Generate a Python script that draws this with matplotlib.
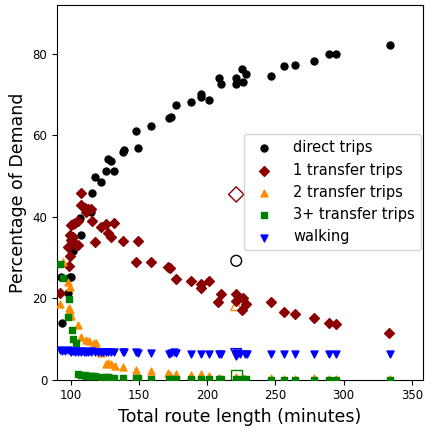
import matplotlib
matplotlib.use("Agg")
import matplotlib.pyplot as plt

# share of demand per travel mode against total route length (minutes)
direct_x = [93.2, 93.6, 98.0, 99.3, 100.5, 101.7, 106.6, 107.8, 115.2, 115.9,
            117.6, 122.5, 126.1, 131.7, 127.3, 129.8, 138.3, 139.0, 148.1, 149.3,
            158.6, 171.7, 173.7, 177.1, 188.3, 195.7, 195.7, 201.5, 208.6, 210.0,
            221.3, 221.3, 225.7, 226.6, 228.6, 246.9, 256.2, 264.7, 278.6, 288.9,
            294.2, 334.0]
direct_y = [25.2, 14.0, 21.2, 25.2, 25.2, 31.5, 39.7, 35.6, 41.2, 45.8,
            49.9, 48.6, 51.2, 51.2, 54.3, 53.6, 55.9, 56.3, 61.0, 56.9,
            62.2, 64.3, 64.6, 67.5, 68.1, 70.2, 69.5, 68.8, 74.2, 72.6,
            74.2, 72.6, 76.2, 73.2, 75.1, 74.6, 77.0, 77.4, 78.3, 79.9,
            80.0, 82.3]

one_x = [92.0, 98.5, 99.3, 98.0, 104.2, 105.3, 99.3, 101.7, 100.5, 100.5,
         101.7, 103.4, 105.3, 107.8, 107.8, 110.2, 111.5, 112.7, 114.6, 115.9,
         117.6, 122.5, 126.1, 131.7, 127.3, 129.8, 138.3, 149.3, 148.1, 158.6,
         171.2, 173.0, 177.4, 188.4, 195.2, 195.2, 201.2, 209.8, 208.3, 220.8,
         220.8, 226.6, 228.6, 225.7, 246.9, 256.2, 264.7, 278.6, 289.1, 294.5,
         333.5]
one_y = [21.2, 27.9, 30.3, 32.6, 33.0, 33.0, 35.5, 35.0, 34.2, 37.9,
         38.3, 38.5, 39.0, 43.0, 45.8, 42.2, 41.2, 41.8, 42.0, 38.9,
         33.8, 37.4, 38.2, 38.5, 35.9, 35.0, 34.1, 34.1, 29.0, 28.9,
         27.7, 27.5, 24.7, 24.2, 23.5, 22.4, 24.2, 21.0, 19.1, 21.0,
         19.3, 20.0, 18.6, 17.1, 19.1, 16.6, 16.1, 15.2, 13.8, 13.6,
         11.5]

two_x = [92.0, 94.4, 98.0, 99.8, 98.5, 99.3, 100.5, 105.3, 107.8, 111.2,
         113.6, 117.3, 118.5, 122.5, 126.1, 127.5, 129.8, 132.2, 138.3, 148.1,
         158.6, 171.2, 173.0, 177.4, 188.4, 195.7, 201.2, 208.6, 220.8, 226.0,
         246.9, 256.2, 264.7, 278.6, 289.0, 294.5, 334.0]
two_y = [18.5, 28.9, 24.0, 22.8, 17.5, 17.1, 15.6, 13.4, 10.5, 9.7,
         9.4, 9.1, 8.9, 6.6, 3.8, 4.0, 3.8, 3.3, 3.2, 2.4,
         2.1, 1.7, 1.2, 1.5, 1.2, 1.3, 0.8, 0.5, 0.7, 0.5,
         0.4, 0.2, 0.2, 0.4, 0.2, 0.2, 0.2]

three_x = [92.0, 94.4, 98.5, 98.0, 101.0, 101.7, 104.2, 105.3, 107.8, 110.2,
           111.5, 112.7, 114.6, 115.9, 117.6, 122.5, 126.1, 127.3, 129.8, 131.7,
           138.3, 148.1, 149.3, 158.6, 171.7, 173.7, 177.1, 188.3, 195.7, 201.5,
           208.6, 210.0, 221.3, 225.7, 226.6, 228.6, 246.9, 256.2, 264.7, 278.6,
           288.9, 294.2, 334.0]
three_y = [28.3, 25.0, 19.9, 15.4, 12.2, 9.9, 8.9, 1.4, 1.2, 1.1,
           1.0, 1.0, 0.9, 0.8, 0.8, 0.7, 0.6, 0.6, 0.5, 0.5,
           0.4, 0.3, 0.3, 0.2, 0.2, 0.2, 0.2, 0.1, 0.1, 0.1,
           0.1, 0.1, 0.1, 0.1, 0.1, 0.1, 0.0, 0.0, 0.0, 0.0,
           0.0, 0.0, 0.0]

walk_x = [92.0, 94.0, 96.0, 98.0, 99.3, 100.5, 101.7, 103.4, 104.2, 105.3,
          106.6, 107.8, 109.5, 110.2, 111.5, 112.7, 114.6, 115.9, 117.6, 120.0,
          122.5, 124.0, 126.1, 127.3, 129.8, 131.7, 138.3, 139.0, 148.1, 149.3,
          158.6, 171.7, 173.7, 175.5, 177.1, 188.3, 195.7, 201.5, 208.6, 210.0,
          220.8, 221.3, 221.8, 223.7, 227.4, 229.1, 246.9, 256.1, 264.7, 278.6,
          289.1, 294.5, 334.0]
walk_y = [7.4, 7.1, 7.0, 7.2, 7.0, 6.9, 7.1, 6.8, 7.0, 6.9,
          7.0, 6.8, 6.9, 7.0, 6.8, 6.9, 6.8, 7.0, 6.9, 6.8,
          6.9, 6.7, 6.9, 6.8, 6.9, 6.7, 6.9, 6.8, 6.8, 6.6,
          6.5, 6.2, 6.5, 6.8, 6.6, 6.4, 6.3, 6.4, 6.2, 6.3,
          6.5, 5.9, 6.3, 6.4, 6.3, 6.3, 6.3, 6.3, 6.3, 6.3,
          6.3, 6.2, 6.3]

# highlighted route (open markers)
sel_x = 221.3
sel_shares = [29.2, 45.5, 18.3, 1.0, 6.3]

labels = ['direct trips', '1 transfer trips', '2 transfer trips',
          '3+ transfer trips', 'walking']
colors = ['black', '#8b0000', 'darkorange', 'green', 'blue']
markers = ['o', 'D', '^', 's', 'v']

fig, ax = plt.subplots(figsize=(4.25, 4.28), dpi=100)
fig.subplots_adjust(left=0.134, right=0.995, top=0.988, bottom=0.113)

for y, c, m in zip(sel_shares, colors, markers):
    ax.scatter([sel_x], [y], s=60, marker=m, facecolors='none',
               edgecolors=c, linewidths=1.0, zorder=2)

series = [(direct_x, direct_y), (one_x, one_y), (two_x, two_y),
          (three_x, three_y), (walk_x, walk_y)]
for (xs, ys), lab, c, m in zip(series, labels, colors, markers):
    ax.scatter(xs, ys, s=25, marker=m, color=c, label=lab, zorder=3)

ax.set_xlim(90, 358)
ax.set_ylim(0, 92)
ax.set_xticks([100, 150, 200, 250, 300, 350])
ax.set_yticks([0, 20, 40, 60, 80])
ax.tick_params(labelsize=8.5)
ax.set_xlabel('Total route length (minutes)', fontsize=12.5)
ax.set_ylabel('Percentage of Demand', fontsize=12.5)
ax.legend(loc='center right', fontsize=10.5, borderaxespad=0.15,
          handletextpad=1.0)

plt.savefig('out.png', dpi=100)
plt.close()
